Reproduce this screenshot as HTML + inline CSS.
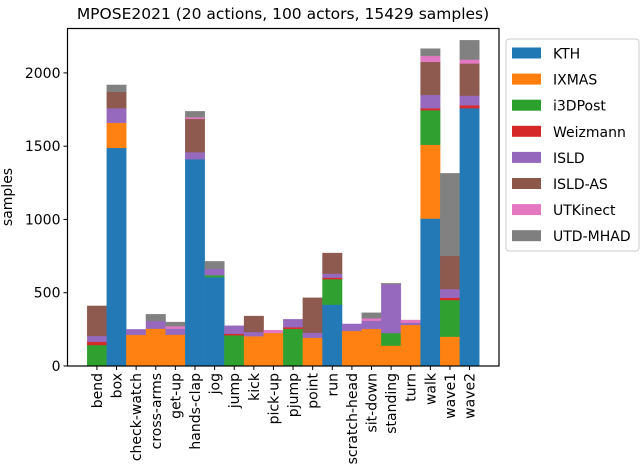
<!DOCTYPE html>
<html><head><meta charset="utf-8"><style>
body{margin:0;background:#fff;}
svg{display:block;font-family:"DejaVu Sans","Liberation Sans",sans-serif;}
</style></head><body>
<svg id="chart" width="640" height="471"></svg>
<script>
const categories=["bend","box","check-watch","cross-arms","get-up","hands-clap","jog","jump","kick","pick-up","pjump","point","run","scratch-head","sit-down","standing","turn","walk","wave1","wave2"];
const seriesNames=["KTH","IXMAS","i3DPost","Weizmann","ISLD","ISLD-AS","UTKinect","UTD-MHAD"];
const colors=["#1f77b4","#ff7f0e","#2ca02c","#d62728","#9467bd","#8c564b","#e377c2","#7f7f7f"];
const KTH=[0,1488,0,0,0,1411,605,0,0,0,0,0,419,0,0,0,0,1006,0,1759];
const IXMAS=[0,171,212,255,214,0,0,0,203,225,0,193,0,239,253,139,280,503,200,0];
const i3DPost=[143,0,0,0,0,0,14,209,0,0,253,0,173,0,0,86,0,236,250,0];
const Weizmann=[23,0,0,0,0,0,0,11,0,0,11,0,11,0,0,0,0,14,16,20];
const ISLD=[39,100,38,52,41,48,45,55,29,0,55,34,27,48,56,333,16,91,59,66];
const ISLDAS=[205,111,0,0,0,227,0,0,109,0,0,239,141,0,0,0,0,225,226,219];
const UTKinect=[0,0,0,0,16,11,0,0,0,20,0,0,0,0,16,0,18,41,0,27];
const UTDMHAD=[0,48,0,46,29,41,50,0,0,0,0,0,0,0,39,6,0,50,564,132];
const series=[KTH,IXMAS,i3DPost,Weizmann,ISLD,ISLDAS,UTKinect,UTDMHAD];
const yTicks=[0,500,1000,1500,2000];

const NS="http://www.w3.org/2000/svg";
const svg=document.getElementById('chart');
const L=67.5,R=499,T=28.5,B=366,YMAX=2303;
const xs=i=>L+(i+1.5)*(R-L)/22;
const bw=(R-L)/22;
const ys=v=>B-v*(B-T)/YMAX;
function mk(tag,attrs,parent){const e=document.createElementNS(NS,tag);for(const k in attrs)e.setAttribute(k,attrs[k]);(parent||svg).appendChild(e);return e;}

const title=mk('text',{x:283,y:19,'text-anchor':'middle','font-size':15.5,fill:'#000'});


title.textContent="MPOSE2021 (20 actions, 100 actors, 15429 samples)";

const bars=mk('g',{});


categories.forEach((c,i)=>{
  let acc=0;
  series.forEach((s,k)=>{
    const v=s[i]; if(!v)return;
    const r=mk('rect',{x:xs(i)-bw/2,y:ys(acc+v),width:bw,height:ys(acc)-ys(acc+v),fill:colors[k],stroke:colors[k],'stroke-width':0.3,opacity:0.98},bars);
    
    
    acc+=v;
  });
});

const frame=mk('rect',{x:L,y:T,width:R-L,height:B-T,fill:'none',stroke:'#000','stroke-width':1.2});



yTicks.forEach(t=>{
  const y=ys(t);
  const ln=mk('line',{x1:L-4,x2:L,y1:y,y2:y,stroke:'#000','stroke-width':1});
  
  
  const tx=mk('text',{x:L-7,y:y+5,'text-anchor':'end','font-size':14});
  
  
  tx.textContent=t;
});
categories.forEach((c,i)=>{
  const x=xs(i);
  const ln=mk('line',{x1:x,x2:x,y1:B,y2:B+4,stroke:'#000','stroke-width':1});
  
  
  const tx=mk('text',{x:0,y:0,'text-anchor':'end','font-size':14,transform:`translate(${x+5},${B+7}) rotate(-90)`});
  
  
  tx.textContent=c;
});
const yl=mk('text',{x:0,y:0,'text-anchor':'middle','font-size':14,transform:'translate(12,197) rotate(-90)'});


yl.textContent="samples";

const lg=mk('g',{});


mk('rect',{x:506,y:39,width:133,height:212,rx:3,fill:'#fff',stroke:'#ccc','stroke-width':1},lg);
seriesNames.forEach((n,k)=>{
  const y=53+k*26.1;
  const p=mk('rect',{x:512,y:y-5.5,width:29,height:11,fill:colors[k]},lg);
  
  
  const t=mk('text',{x:553,y:y+5.5,'font-size':14},lg);
  
  
  t.textContent=n;
});
</script>
</body></html>
